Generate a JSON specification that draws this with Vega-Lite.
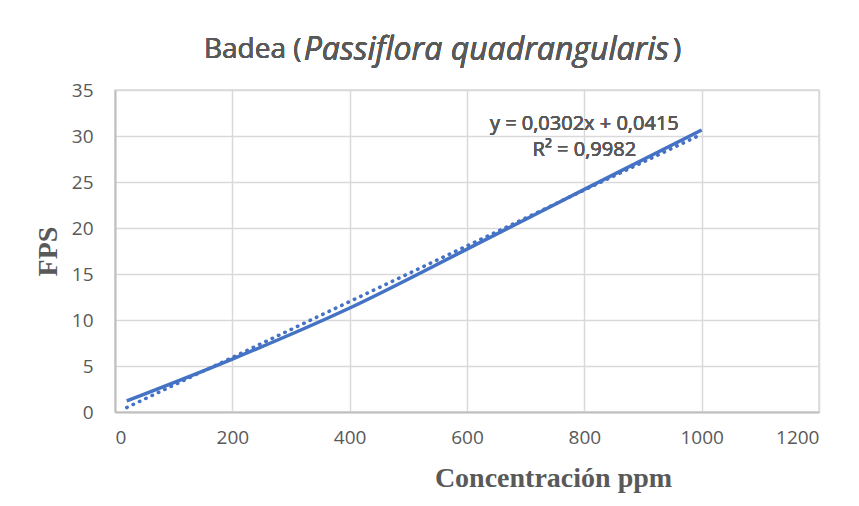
{
  "$schema": "https://vega.github.io/schema/vega-lite/v6.json",
  "width": 704,
  "height": 322,
  "autosize": {"type": "none"},
  "padding": {"left": 115, "top": 90, "right": 40, "bottom": 94},
  "background": "white",
  "config": {
    "view": {"stroke": "#d9d9d9", "strokeWidth": 1.5},
    "axis": {
      "gridColor": "#d9d9d9",
      "gridWidth": 1.5,
      "domainColor": "#bfbfbf",
      "domainWidth": 2,
      "ticks": false,
      "labelFont": "Open Sans",
      "labelFontSize": 19,
      "labelColor": "#595959",
      "titleFont": "Liberation Serif",
      "titleFontWeight": "bold",
      "titleFontSize": 28,
      "titleColor": "#595959"
    }
  },
  "data": {
    "values": [
      {"ppm": 20, "fps": 1.2},
      {"ppm": 200, "fps": 5.75},
      {"ppm": 400, "fps": 11.3},
      {"ppm": 600, "fps": 17.7},
      {"ppm": 800, "fps": 24.2},
      {"ppm": 1000, "fps": 30.65}
    ]
  },
  "layer": [
    {
      "mark": {"type": "line", "color": "#4472C4", "strokeWidth": 3.5, "interpolate": "monotone"},
      "encoding": {
        "x": {
          "field": "ppm", "type": "quantitative",
          "scale": {"domain": [0, 1200], "nice": false},
          "axis": {
            "values": [0, 200, 400, 600, 800, 1000, 1200],
            "format": "d",
            "labelPadding": 16,
            "title": "Concentración ppm",
            "titleX": 438,
            "titleY": 74,
            "titleAlign": "center",
            "titleBaseline": "alphabetic"
          }
        },
        "y": {
          "field": "fps", "type": "quantitative",
          "scale": {"domain": [0, 35], "nice": false},
          "axis": {
            "values": [0, 5, 10, 15, 20, 25, 30, 35],
            "format": "d",
            "labelPadding": 22,
            "title": "FPS",
            "titleAngle": 270,
            "titleX": -67,
            "titleY": 161,
            "titleAlign": "center",
            "titleBaseline": "middle"
          }
        }
      }
    },
    {
      "transform": [{"regression": "fps", "on": "ppm", "extent": [20, 1000]}],
      "mark": {"type": "line", "color": "#4472C4", "strokeWidth": 3.5, "strokeDash": [0.5, 6.5], "strokeCap": "round"},
      "encoding": {
        "x": {"field": "ppm", "type": "quantitative"},
        "y": {"field": "fps", "type": "quantitative"}
      }
    },
    {
      "mark": {"type": "text", "font": "Open Sans", "fontSize": 20, "color": "#595959", "align": "center", "baseline": "middle", "clip": false},
      "encoding": {
        "x": {"datum": 800, "type": "quantitative"},
        "y": {"datum": 31.3, "type": "quantitative"},
        "text": {"value": "y = 0,0302x + 0,0415"}
      }
    },
    {
      "mark": {"type": "text", "font": "Open Sans", "fontSize": 20, "color": "#595959", "align": "center", "baseline": "middle", "clip": false},
      "encoding": {
        "x": {"datum": 800, "type": "quantitative"},
        "y": {"datum": 28.5, "type": "quantitative"},
        "text": {"value": "R² = 0,9982"}
      }
    },
    {
      "mark": {"type": "text", "font": "Open Sans", "fontSize": 28, "color": "#595959", "align": "right", "baseline": "middle", "clip": false},
      "encoding": {
        "x": {"datum": 318, "type": "quantitative"},
        "y": {"datum": 39.35, "type": "quantitative"},
        "text": {"value": "Badea ("}
      }
    },
    {
      "mark": {"type": "text", "font": "Open Sans", "fontSize": 32, "fontStyle": "italic", "color": "#595959", "align": "center", "baseline": "middle", "clip": false},
      "encoding": {
        "x": {"datum": 633, "type": "quantitative"},
        "y": {"datum": 39.35, "type": "quantitative"},
        "text": {"value": "Passiflora quadrangularis"}
      }
    },
    {
      "mark": {"type": "text", "font": "Open Sans", "fontSize": 28, "color": "#595959", "align": "left", "baseline": "middle", "clip": false},
      "encoding": {
        "x": {"datum": 951, "type": "quantitative"},
        "y": {"datum": 39.35, "type": "quantitative"},
        "text": {"value": ")"}
      }
    }
  ]
}
